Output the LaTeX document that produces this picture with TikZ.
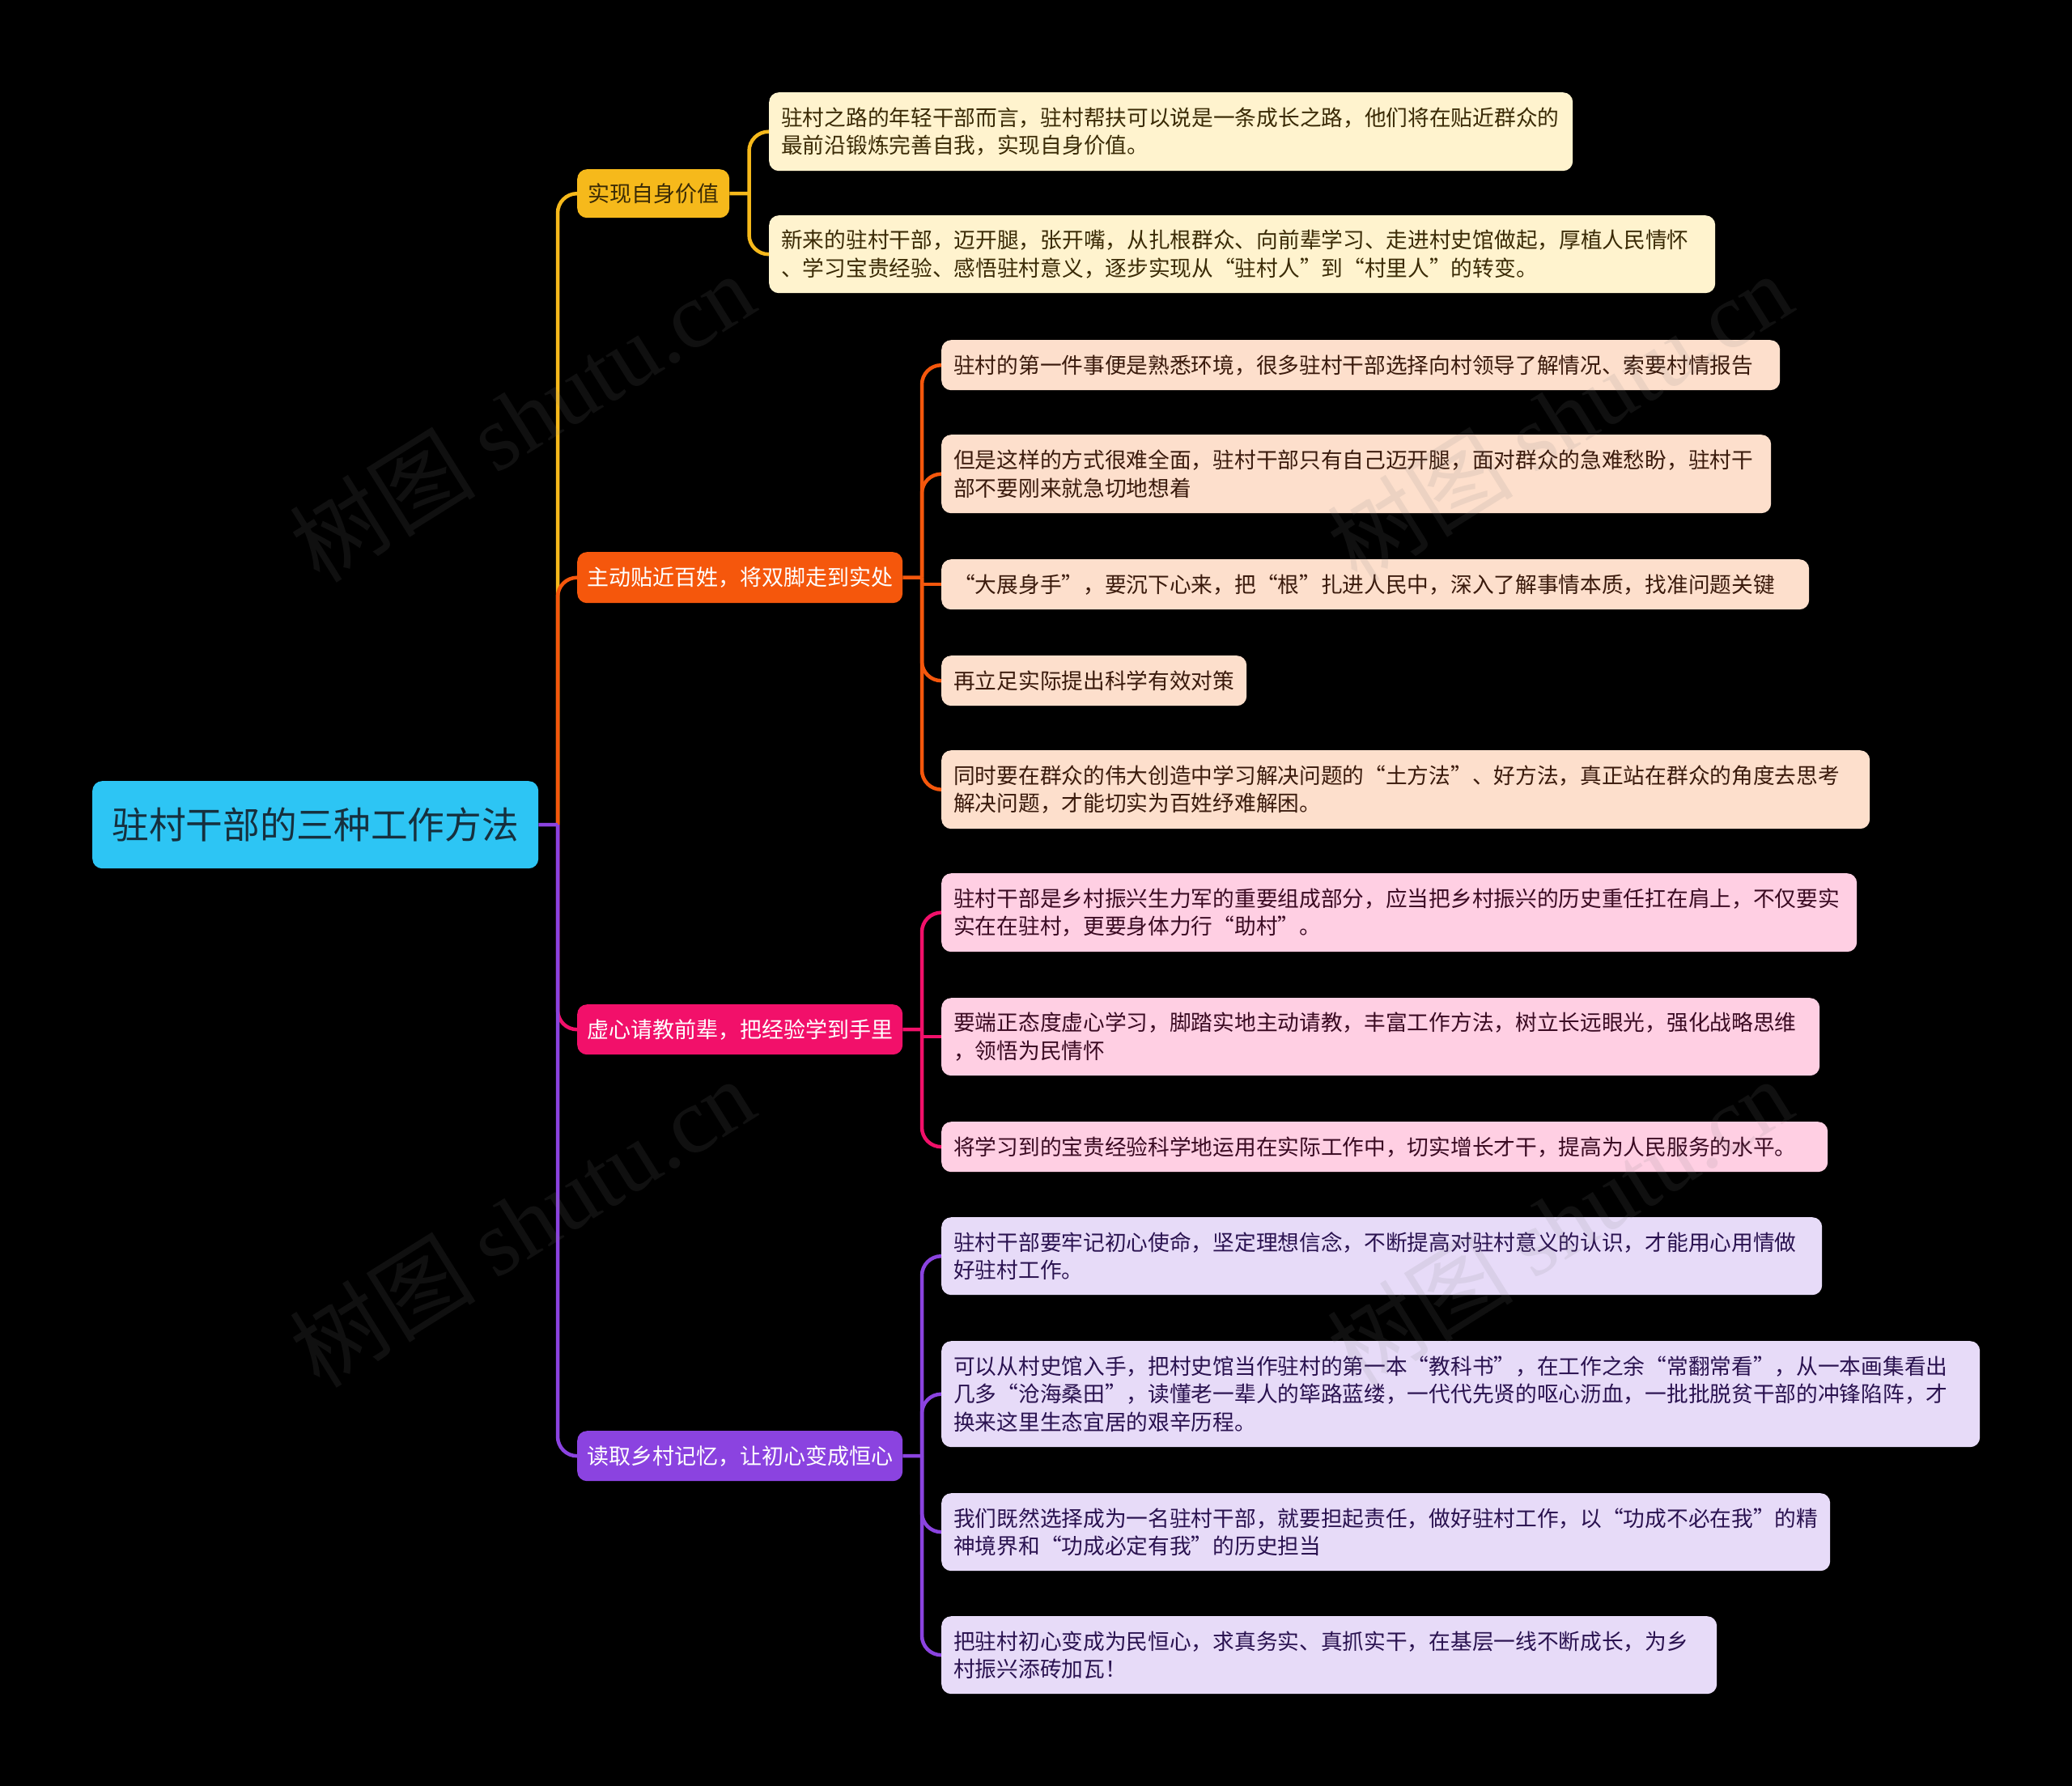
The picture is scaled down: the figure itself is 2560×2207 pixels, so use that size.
\documentclass[tikz,border=0pt]{standalone}
\usepackage{fontspec}
\setmainfont{Noto Sans CJK SC}
\newfontfamily\wmfont{Liberation Serif}
\definecolor{yel}{HTML}{F6B91B}
\definecolor{ora}{HTML}{F5570C}
\definecolor{pnk}{HTML}{F2106A}
\definecolor{pur}{HTML}{8B43E0}
\definecolor{rootc}{HTML}{2DC5F4}
\definecolor{yelL}{HTML}{FFF3CE}
\definecolor{oraL}{HTML}{FDDFCC}
\definecolor{pnkL}{HTML}{FFCFE3}
\definecolor{purL}{HTML}{E7DBF8}
\definecolor{yelT}{HTML}{3A2A05}
\definecolor{oraT}{HTML}{3A1A0C}
\definecolor{pnkT}{HTML}{3A0A22}
\definecolor{purT}{HTML}{2A1250}
\definecolor{rootT}{HTML}{16303E}
\definecolor{wmgray}{HTML}{808080}
\tikzset{
  leaf/.style={anchor=north west, rounded corners=12pt, inner xsep=15pt, inner ysep=0pt,
    align=left, font=\fontsize{26.7pt}{34.5pt}\selectfont},
  mid/.style={anchor=north west, rounded corners=12pt, inner xsep=0pt, inner ysep=0pt,
    align=center, font=\fontsize{27pt}{34pt}\selectfont},
  conn/.style={line width=4.5pt, draw=#1},
  bend/.style={line width=4.5pt, draw=#1, rounded corners=24pt},
  wm/.style={font=\fontsize{115pt}{120pt}\selectfont, text=wmgray, text opacity=0.13, rotate=32}
}
\begin{document}
\begin{tikzpicture}[x=1pt,y=-1pt]
\fill[black] (0,0) rectangle (2560,2207);
\useasboundingbox (0,0) rectangle (2560,2207);

% root
\node[anchor=north west, fill=rootc, rounded corners=12pt, minimum width=551pt, minimum height=108pt,
  inner sep=0pt, text=rootT, font=\fontsize{45.7pt}{50pt}\selectfont] (root) at (114,965) {驻村干部的三种工作方法};

% level 1
\node[mid, fill=yel, text=yelT, minimum width=188pt, minimum height=60pt] (n1) at (713,209) {实现自身价值};
\node[mid, fill=ora, text=white, minimum width=402pt, minimum height=63pt] (n2) at (713,682) {主动贴近百姓，将双脚走到实处};
\node[mid, fill=pnk, text=white, minimum width=402pt, minimum height=62pt] (n3) at (713,1241) {虚心请教前辈，把经验学到手里};
\node[mid, fill=pur, text=white, minimum width=402pt, minimum height=62pt] (n4) at (713,1768) {读取乡村记忆，让初心变成恒心};

% leaves yellow
\node[leaf, fill=yelL, text=yelT, text width=963pt, minimum height=97pt] (a1) at (950,114)
 {驻村之路的年轻干部而言，驻村帮扶可以说是一条成长之路，他们将在贴近群众的\\最前沿锻炼完善自我，实现自身价值。};
\node[leaf, fill=yelL, text=yelT, text width=1139pt, minimum height=96pt] (a2) at (950,266)
 {新来的驻村干部，迈开腿，张开嘴，从扎根群众、向前辈学习、走进村史馆做起，厚植人民情怀\\、学习宝贵经验、感悟驻村意义，逐步实现从“驻村人”到“村里人”的转变。};

% leaves orange
\node[leaf, fill=oraL, text=oraT, text width=1006pt, minimum height=62pt] (b1) at (1163,420)
 {驻村的第一件事便是熟悉环境，很多驻村干部选择向村领导了解情况、索要村情报告};
\node[leaf, fill=oraL, text=oraT, text width=995pt, minimum height=97pt] (b2) at (1163,537)
 {但是这样的方式很难全面，驻村干部只有自己迈开腿，面对群众的急难愁盼，驻村干\\部不要刚来就急切地想着};
\node[leaf, fill=oraL, text=oraT, text width=1042pt, minimum height=62pt] (b3) at (1163,691)
 {“大展身手”，要沉下心来，把“根”扎进人民中，深入了解事情本质，找准问题关键};
\node[leaf, fill=oraL, text=oraT, text width=347pt, minimum height=62pt] (b4) at (1163,810)
 {再立足实际提出科学有效对策};
\node[leaf, fill=oraL, text=oraT, text width=1117pt, minimum height=97pt] (b5) at (1163,927)
 {同时要在群众的伟大创造中学习解决问题的“土方法”、好方法，真正站在群众的角度去思考\\解决问题，才能切实为百姓纾难解困。};

% leaves pink
\node[leaf, fill=pnkL, text=pnkT, text width=1101pt, minimum height=97pt] (c1) at (1163,1079)
 {驻村干部是乡村振兴生力军的重要组成部分，应当把乡村振兴的历史重任扛在肩上，不仅要实\\实在在驻村，更要身体力行“助村”。};
\node[leaf, fill=pnkL, text=pnkT, text width=1055pt, minimum height=96pt] (c2) at (1163,1233)
 {要端正态度虚心学习，脚踏实地主动请教，丰富工作方法，树立长远眼光，强化战略思维\\，领悟为民情怀};
\node[leaf, fill=pnkL, text=pnkT, text width=1065pt, minimum height=62pt] (c3) at (1163,1386)
 {将学习到的宝贵经验科学地运用在实际工作中，切实增长才干，提高为人民服务的水平。};

% leaves purple
\node[leaf, fill=purL, text=purT, text width=1058pt, minimum height=96pt] (d1) at (1163,1504)
 {驻村干部要牢记初心使命，坚定理想信念，不断提高对驻村意义的认识，才能用心用情做\\好驻村工作。};
\node[leaf, fill=purL, text=purT, text width=1253pt, minimum height=131pt] (d2) at (1163,1657)
 {可以从村史馆入手，把村史馆当作驻村的第一本“教科书”，在工作之余“常翻常看”，从一本画集看出\\几多“沧海桑田”，读懂老一辈人的筚路蓝缕，一代代先贤的呕心沥血，一批批脱贫干部的冲锋陷阵，才\\换来这里生态宜居的艰辛历程。};
\node[leaf, fill=purL, text=purT, text width=1068pt, minimum height=96pt] (d3) at (1163,1845)
 {我们既然选择成为一名驻村干部，就要担起责任，做好驻村工作，以“功成不必在我”的精\\神境界和“功成必定有我”的历史担当};
\node[leaf, fill=purL, text=purT, text width=928pt, minimum height=96pt] (d4) at (1163,1997)
 {把驻村初心变成为民恒心，求真务实、真抓实干，在基层一线不断成长，为乡\\村振兴添砖加瓦！};

% trunk points
\coordinate (t0) at (689,1019);
\coordinate (t1) at (925.5,239);
\coordinate (t2) at (1139,713.5);
\coordinate (t3) at (1139,1272);
\coordinate (t4) at (1139,1799);

% root connectors
\draw[bend=yel] (t0) |- (n1.west);
\draw[bend=ora] (t0) |- (n2.west);
\draw[bend=pnk] (t0) |- (n3.west);
\draw[bend=pur] (t0) |- (n4.west);
\draw[conn=pur] (root.east) -- (t0);

% yellow children
\draw[conn=yel] (n1.east) -- (t1);
\draw[bend=yel] (t1) |- (a1.west);
\draw[bend=yel] (t1) |- (a2.west);

% orange children
\draw[conn=ora] (n2.east) -- (t2);
\draw[bend=ora] (t2) |- (b1.west);
\draw[bend=ora] (t2) |- (b2.west);
\draw[conn=ora] (b3.west -| t2) -- (b3.west);
\draw[bend=ora] (t2) |- (b4.west);
\draw[bend=ora] (t2) |- (b5.west);

% pink children
\draw[conn=pnk] (n3.east) -- (t3);
\draw[bend=pnk] (t3) |- (c1.west);
\draw[conn=pnk] (c2.west -| t3) -- (c2.west);
\draw[bend=pnk] (t3) |- (c3.west);

% purple children
\draw[conn=pur] (n4.east) -- (t4);
\draw[bend=pur] (t4) |- (d1.west);
\draw[bend=pur] (t4) |- (d2.west);
\draw[bend=pur] (t4) |- (d3.west);
\draw[bend=pur] (t4) |- (d4.west);

% watermarks
\node[wm] (w1) at (645,515) {树图 {\wmfont shutu.cn}};
\node[wm] (w2) at (1927,515) {树图 {\wmfont shutu.cn}};
\node[wm] (w3) at (645,1510) {树图 {\wmfont shutu.cn}};
\node[wm] (w4) at (1927,1510) {树图 {\wmfont shutu.cn}};
\end{tikzpicture}
\end{document}
